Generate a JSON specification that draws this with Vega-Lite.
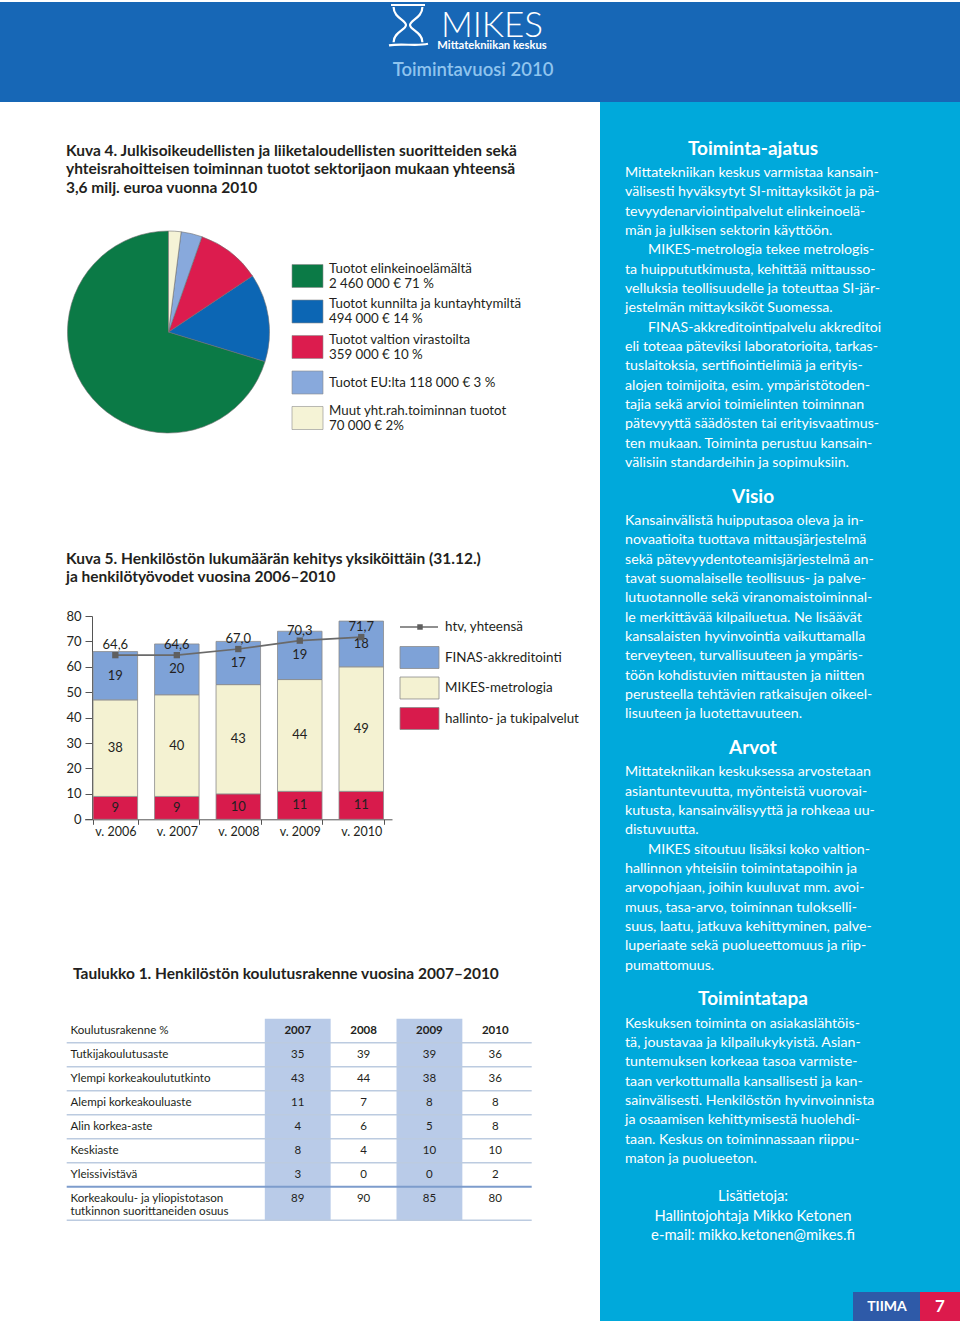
{
  "$schema": "https://vega.github.io/schema/vega-lite/v6.json",
  "padding": 0,
  "spacing": 0,
  "background": "white",
  "config": {
    "view": {"stroke": null},
    "font": "Lato",
    "text": {"font": "Lato", "color": "#231f20"},
    "axis": {"labelFont": "Lato", "titleFont": "Lato"},
    "locale": {"number": {"decimal": ",", "thousands": " ", "grouping": [3], "currency": ["", " €"]}}
  },
  "datasets": {
    "pie": [
      {"sector": "Tuotot elinkeinoelämältä", "amount": 2460000, "l1": "Tuotot elinkeinoelämältä", "l2": "2 460 000 € 71 %"},
      {"sector": "Tuotot kunnilta ja kuntayhtymiltä", "amount": 494000, "l1": "Tuotot kunnilta ja kuntayhtymiltä", "l2": "494 000 € 14 %"},
      {"sector": "Tuotot valtion virastoilta", "amount": 359000, "l1": "Tuotot valtion virastoilta", "l2": "359 000 € 10 %"},
      {"sector": "Tuotot EU:lta", "amount": 118000, "l1": "Tuotot EU:lta 118 000 € 3 %", "l2": null},
      {"sector": "Muut yht.rah.toiminnan tuotot", "amount": 70000, "l1": "Muut yht.rah.toiminnan tuotot", "l2": "70 000 € 2%"}
    ],
    "bars": [
      {"year": "v. 2006", "cat": "hallinto- ja tukipalvelut", "s": 1, "n": 9},
      {"year": "v. 2006", "cat": "MIKES-metrologia", "s": 2, "n": 38},
      {"year": "v. 2006", "cat": "FINAS-akkreditointi", "s": 3, "n": 19},
      {"year": "v. 2007", "cat": "hallinto- ja tukipalvelut", "s": 1, "n": 9},
      {"year": "v. 2007", "cat": "MIKES-metrologia", "s": 2, "n": 40},
      {"year": "v. 2007", "cat": "FINAS-akkreditointi", "s": 3, "n": 20},
      {"year": "v. 2008", "cat": "hallinto- ja tukipalvelut", "s": 1, "n": 10},
      {"year": "v. 2008", "cat": "MIKES-metrologia", "s": 2, "n": 43},
      {"year": "v. 2008", "cat": "FINAS-akkreditointi", "s": 3, "n": 17},
      {"year": "v. 2009", "cat": "hallinto- ja tukipalvelut", "s": 1, "n": 11},
      {"year": "v. 2009", "cat": "MIKES-metrologia", "s": 2, "n": 44},
      {"year": "v. 2009", "cat": "FINAS-akkreditointi", "s": 3, "n": 19},
      {"year": "v. 2010", "cat": "hallinto- ja tukipalvelut", "s": 1, "n": 11},
      {"year": "v. 2010", "cat": "MIKES-metrologia", "s": 2, "n": 49},
      {"year": "v. 2010", "cat": "FINAS-akkreditointi", "s": 3, "n": 18}
    ],
    "htv": [
      {"year": "v. 2006", "htv": 64.6},
      {"year": "v. 2007", "htv": 64.6},
      {"year": "v. 2008", "htv": 67.0},
      {"year": "v. 2009", "htv": 70.3},
      {"year": "v. 2010", "htv": 71.7}
    ],
    "table": [
      {"r": "Tutkijakoulutusaste", "c": "2007", "v": 35},
      {"r": "Tutkijakoulutusaste", "c": "2008", "v": 39},
      {"r": "Tutkijakoulutusaste", "c": "2009", "v": 39},
      {"r": "Tutkijakoulutusaste", "c": "2010", "v": 36},
      {"r": "Ylempi korkeakoulututkinto", "c": "2007", "v": 43},
      {"r": "Ylempi korkeakoulututkinto", "c": "2008", "v": 44},
      {"r": "Ylempi korkeakoulututkinto", "c": "2009", "v": 38},
      {"r": "Ylempi korkeakoulututkinto", "c": "2010", "v": 36},
      {"r": "Alempi korkeakouluaste", "c": "2007", "v": 11},
      {"r": "Alempi korkeakouluaste", "c": "2008", "v": 7},
      {"r": "Alempi korkeakouluaste", "c": "2009", "v": 8},
      {"r": "Alempi korkeakouluaste", "c": "2010", "v": 8},
      {"r": "Alin korkea-aste", "c": "2007", "v": 4},
      {"r": "Alin korkea-aste", "c": "2008", "v": 6},
      {"r": "Alin korkea-aste", "c": "2009", "v": 5},
      {"r": "Alin korkea-aste", "c": "2010", "v": 8},
      {"r": "Keskiaste", "c": "2007", "v": 8},
      {"r": "Keskiaste", "c": "2008", "v": 4},
      {"r": "Keskiaste", "c": "2009", "v": 10},
      {"r": "Keskiaste", "c": "2010", "v": 10},
      {"r": "Yleissivistävä", "c": "2007", "v": 3},
      {"r": "Yleissivistävä", "c": "2008", "v": 0},
      {"r": "Yleissivistävä", "c": "2009", "v": 0},
      {"r": "Yleissivistävä", "c": "2010", "v": 2},
      {"r": "Korkeakoulu- ja yliopistotason tutkinnon suorittaneiden osuus", "c": "2007", "v": 89},
      {"r": "Korkeakoulu- ja yliopistotason tutkinnon suorittaneiden osuus", "c": "2008", "v": 90},
      {"r": "Korkeakoulu- ja yliopistotason tutkinnon suorittaneiden osuus", "c": "2009", "v": 85},
      {"r": "Korkeakoulu- ja yliopistotason tutkinnon suorittaneiden osuus", "c": "2010", "v": 80}
    ],
    "side": [
      {"k": -1, "kind": "h", "t": "Toiminta-ajatus"},
      {"k": 0, "kind": "b", "t": "Mittatekniikan keskus varmistaa kansain-"},
      {"k": 1, "kind": "b", "t": "välisesti hyväksytyt SI-mittayksiköt ja pä-"},
      {"k": 2, "kind": "b", "t": "tevyydenarviointipalvelut elinkeinoelä-"},
      {"k": 3, "kind": "b", "t": "män ja julkisen sektorin käyttöön."},
      {"k": 4, "kind": "i", "t": "MIKES-metrologia tekee metrologis-"},
      {"k": 5, "kind": "b", "t": "ta huippututkimusta, kehittää mittausso-"},
      {"k": 6, "kind": "b", "t": "velluksia teollisuudelle ja toteuttaa SI-jär-"},
      {"k": 7, "kind": "b", "t": "jestelmän mittayksiköt Suomessa."},
      {"k": 8, "kind": "i", "t": "FINAS-akkreditointipalvelu akkreditoi"},
      {"k": 9, "kind": "b", "t": "eli toteaa päteviksi laboratorioita, tarkas-"},
      {"k": 10, "kind": "b", "t": "tuslaitoksia, sertifiointielimiä ja erityis-"},
      {"k": 11, "kind": "b", "t": "alojen toimijoita, esim. ympäristötoden-"},
      {"k": 12, "kind": "b", "t": "tajia sekä arvioi toimielinten toiminnan"},
      {"k": 13, "kind": "b", "t": "pätevyyttä säädösten tai erityisvaatimus-"},
      {"k": 14, "kind": "b", "t": "ten mukaan. Toiminta perustuu kansain-"},
      {"k": 15, "kind": "b", "t": "välisiin standardeihin ja sopimuksiin."},
      {"k": 17, "kind": "h", "t": "Visio"},
      {"k": 18, "kind": "b", "t": "Kansainvälistä huipputasoa oleva ja in-"},
      {"k": 19, "kind": "b", "t": "novaatioita tuottava mittausjärjestelmä"},
      {"k": 20, "kind": "b", "t": "sekä pätevyydentoteamisjärjestelmä an-"},
      {"k": 21, "kind": "b", "t": "tavat suomalaiselle teollisuus- ja palve-"},
      {"k": 22, "kind": "b", "t": "lutuotannolle sekä viranomaistoiminnal-"},
      {"k": 23, "kind": "b", "t": "le merkittävää kilpailuetua. Ne lisäävät"},
      {"k": 24, "kind": "b", "t": "kansalaisten hyvinvointia vaikuttamalla"},
      {"k": 25, "kind": "b", "t": "terveyteen, turvallisuuteen ja ympäris-"},
      {"k": 26, "kind": "b", "t": "töön kohdistuvien mittausten ja niitten"},
      {"k": 27, "kind": "b", "t": "perusteella tehtävien ratkaisujen oikeel-"},
      {"k": 28, "kind": "b", "t": "lisuuteen ja luotettavuuteen."},
      {"k": 30, "kind": "h", "t": "Arvot"},
      {"k": 31, "kind": "b", "t": "Mittatekniikan keskuksessa arvostetaan"},
      {"k": 32, "kind": "b", "t": "asiantuntevuutta, myönteistä vuorovai-"},
      {"k": 33, "kind": "b", "t": "kutusta, kansainvälisyyttä ja rohkeaa uu-"},
      {"k": 34, "kind": "b", "t": "distuvuutta."},
      {"k": 35, "kind": "i", "t": "MIKES sitoutuu lisäksi koko valtion-"},
      {"k": 36, "kind": "b", "t": "hallinnon yhteisiin toimintatapoihin ja"},
      {"k": 37, "kind": "b", "t": "arvopohjaan, joihin kuuluvat mm. avoi-"},
      {"k": 38, "kind": "b", "t": "muus, tasa-arvo, toiminnan tulokselli-"},
      {"k": 39, "kind": "b", "t": "suus, laatu, jatkuva kehittyminen, palve-"},
      {"k": 40, "kind": "b", "t": "luperiaate sekä puolueettomuus ja riip-"},
      {"k": 41, "kind": "b", "t": "pumattomuus."},
      {"k": 43, "kind": "h", "t": "Toimintatapa"},
      {"k": 44, "kind": "b", "t": "Keskuksen toiminta on asiakaslähtöis-"},
      {"k": 45, "kind": "b", "t": "tä, joustavaa ja kilpailukykyistä. Asian-"},
      {"k": 46, "kind": "b", "t": "tuntemuksen korkeaa tasoa varmiste-"},
      {"k": 47, "kind": "b", "t": "taan verkottumalla kansallisesti ja kan-"},
      {"k": 48, "kind": "b", "t": "sainvälisesti. Henkilöstön hyvinvoinnista"},
      {"k": 49, "kind": "b", "t": "ja osaamisen kehittymisestä huolehdi-"},
      {"k": 50, "kind": "b", "t": "taan. Keskus on toiminnassaan riippu-"},
      {"k": 51, "kind": "b", "t": "maton ja puolueeton."},
      {"k": 53, "kind": "c", "t": "Lisätietoja:"},
      {"k": 54, "kind": "c", "t": "Hallintojohtaja Mikko Ketonen"},
      {"k": 55, "kind": "c", "t": "e-mail: mikko.ketonen@mikes.fi"}
    ]
  },
  "vconcat": [
    {
      "width": 960,
      "height": 100,
      "view": {"fill": "#1767b6", "stroke": null},
      "layer": [
        {
          "data": {"values": [{"t": "logo"}]},
          "mark": {"type": "point", "shape": "M-0.85,-1 L0.85,-1 M-0.72,-0.9 C-0.72,-0.35 -0.1,-0.25 -0.1,0 C-0.1,0.25 -0.72,0.35 -0.72,0.86 M0.72,-0.9 C0.72,-0.35 0.1,-0.25 0.1,0 C0.1,0.25 0.72,0.35 0.72,0.86 M-0.95,1.02 C-0.3,0.9 0.4,1.08 1,0.94", "filled": false, "stroke": "white", "strokeWidth": 2.2, "size": 1600, "opacity": 1},
          "encoding": {"x": {"value": 408}, "y": {"value": 23}}
        },
        {
          "data": {"values": [{"t": "MIKES"}]},
          "mark": {"type": "text", "fontSize": 35, "fontWeight": 300, "color": "white", "align": "center", "baseline": "alphabetic"},
          "encoding": {"x": {"value": 492}, "y": {"value": 35}, "text": {"field": "t"}}
        },
        {
          "data": {"values": [{"t": "Mittatekniikan keskus"}]},
          "mark": {"type": "text", "fontSize": 11.2, "fontWeight": "bold", "color": "white", "align": "center", "baseline": "alphabetic"},
          "encoding": {"x": {"value": 492}, "y": {"value": 47}, "text": {"field": "t"}}
        },
        {
          "data": {"values": [{"t": "Toimintavuosi 2010"}]},
          "mark": {"type": "text", "fontSize": 18.5, "fontWeight": 600, "color": "#8fc4ee", "align": "center", "baseline": "alphabetic"},
          "encoding": {"x": {"value": 473}, "y": {"value": 74}, "text": {"field": "t"}}
        }
      ]
    },
    {
      "spacing": 0,
      "hconcat": [
        {
          "width": 600,
          "height": 1221,
          "view": {"fill": "white", "stroke": null},
          "resolve": {
            "scale": {"x": "independent", "y": "independent", "color": "independent", "theta": "independent"},
            "axis": {"x": "independent", "y": "independent"}
          },
          "layer": [
            {
              "data": {"values": [{"t": "Kuva 4. Julkisoikeudellisten ja liiketaloudellisten suoritteiden sekä\nyhteisrahoitteisen toiminnan tuotot sektorijaon mukaan yhteensä\n3,6 milj. euroa vuonna 2010"}]},
              "mark": {"type": "text", "align": "left", "baseline": "alphabetic", "lineBreak": "\n", "lineHeight": 18.5, "fontSize": 15.5, "fontWeight": "bold"},
              "encoding": {"x": {"value": 66}, "y": {"value": 53.5}, "text": {"field": "t"}}
            },
            {
              "data": {"values": [{"t": "Kuva 5. Henkilöstön lukumäärän kehitys yksiköittäin (31.12.)\nja henkilötyövodet vuosina 2006–2010"}]},
              "mark": {"type": "text", "align": "left", "baseline": "alphabetic", "lineBreak": "\n", "lineHeight": 18, "fontSize": 15.5, "fontWeight": "bold"},
              "encoding": {"x": {"value": 66}, "y": {"value": 461.5}, "text": {"field": "t"}}
            },
            {
              "data": {"values": [{"t": "Taulukko 1. Henkilöstön koulutusrakenne vuosina 2007–2010"}]},
              "mark": {"type": "text", "align": "left", "baseline": "alphabetic", "fontSize": 15.5, "fontWeight": "bold"},
              "encoding": {"x": {"value": 73}, "y": {"value": 876.5}, "text": {"field": "t"}}
            },
            {
              "data": {"name": "pie"},
              "layer": [
                {
                  "mark": {"type": "arc", "radius": 101, "stroke": "#6e6e6e", "strokeWidth": 0.6},
                  "encoding": {
                    "theta": {"field": "amount", "type": "quantitative", "stack": true},
                    "order": {"field": "amount", "type": "quantitative", "sort": "ascending"},
                    "color": {"field": "sector", "type": "nominal", "scale": {"domain": ["Tuotot elinkeinoelämältä", "Tuotot kunnilta ja kuntayhtymiltä", "Tuotot valtion virastoilta", "Tuotot EU:lta", "Muut yht.rah.toiminnan tuotot"], "range": ["#0b7a46", "#0c66b4", "#dc1c4e", "#88a9dc", "#f5f3d6"]}, "legend": null},
                    "x": {"value": 168.5},
                    "y": {"value": 230}
                  }
                },
                {
                  "mark": {"type": "rect", "stroke": "#8c8c8c", "strokeWidth": 0.6},
                  "encoding": {
                    "y": {"field": "sector", "type": "nominal", "scale": {"domain": ["Tuotot elinkeinoelämältä", "Tuotot kunnilta ja kuntayhtymiltä", "Tuotot valtion virastoilta", "Tuotot EU:lta", "Muut yht.rah.toiminnan tuotot"], "range": [156.25, 333.75], "paddingInner": 0.352, "paddingOuter": 0.176}, "axis": null},
                    "x": {"value": 292},
                    "x2": {"value": 323},
                    "color": {"field": "sector", "type": "nominal", "legend": null}
                  }
                },
                {
                  "transform": [{"filter": "datum.l2 != null"}],
                  "mark": {"type": "text", "align": "left", "baseline": "middle", "fontSize": 13.3, "dy": -7.5},
                  "encoding": {"y": {"field": "sector", "type": "nominal", "axis": null}, "x": {"value": 329}, "text": {"field": "l1"}}
                },
                {
                  "transform": [{"filter": "datum.l2 != null"}],
                  "mark": {"type": "text", "align": "left", "baseline": "middle", "fontSize": 13.3, "dy": 7.5},
                  "encoding": {"y": {"field": "sector", "type": "nominal", "axis": null}, "x": {"value": 329}, "text": {"field": "l2"}}
                },
                {
                  "transform": [{"filter": "datum.l2 == null"}],
                  "mark": {"type": "text", "align": "left", "baseline": "middle", "fontSize": 13.3},
                  "encoding": {"y": {"field": "sector", "type": "nominal", "axis": null}, "x": {"value": 329}, "text": {"field": "l1"}}
                }
              ]
            },
            {
              "layer": [
                {
                  "data": {"name": "bars"},
                  "mark": {"type": "bar", "stroke": "#8a8a8a", "strokeWidth": 0.8},
                  "encoding": {
                    "x": {"field": "year", "type": "nominal", "sort": null, "title": null,
                      "scale": {"domain": ["v. 2006", "v. 2007", "v. 2008", "v. 2009", "v. 2010"], "range": [84.6, 392], "paddingInner": 0.276, "paddingOuter": 0.138},
                      "axis": {"orient": "bottom", "offset": -503.7, "tickBand": "extent", "tickSize": 5, "tickColor": "#555555", "domainColor": "#555555", "labelPadding": 1, "labelAngle": 0, "labelFontSize": 12.5, "labelColor": "#231f20", "title": null, "grid": false}},
                    "y": {"field": "n", "type": "quantitative", "stack": "zero", "title": null,
                      "scale": {"domain": [0, 80], "range": [717.3, 514], "nice": false},
                      "axis": {"orient": "left", "offset": -92, "values": [0, 10, 20, 30, 40, 50, 60, 70, 80], "tickSize": 7, "tickColor": "#555555", "domainColor": "#555555", "labelPadding": 4, "labelFontSize": 13, "labelColor": "#231f20", "grid": false, "title": null}},
                    "color": {"field": "cat", "type": "nominal", "scale": {"domain": ["hallinto- ja tukipalvelut", "MIKES-metrologia", "FINAS-akkreditointi"], "range": ["#d81b4c", "#f4f2d2", "#7ea2d7"]}, "legend": null},
                    "order": {"field": "s", "type": "quantitative", "sort": "ascending"}
                  }
                },
                {
                  "data": {"name": "bars"},
                  "mark": {"type": "text", "fontSize": 13, "baseline": "middle"},
                  "encoding": {
                    "x": {"field": "year", "type": "nominal", "title": null},
                    "y": {"field": "n", "type": "quantitative", "stack": "zero", "bandPosition": 0.5, "title": null},
                    "detail": {"field": "cat"},
                    "order": {"field": "s", "type": "quantitative", "sort": "ascending"},
                    "text": {"field": "n", "type": "quantitative"}
                  }
                },
                {
                  "data": {"name": "htv"},
                  "mark": {"type": "line", "color": "#6a6a6a", "strokeWidth": 1.6},
                  "encoding": {
                    "x": {"field": "year", "type": "nominal", "title": null},
                    "y": {"field": "htv", "type": "quantitative", "title": null}
                  }
                },
                {
                  "data": {"name": "htv"},
                  "mark": {"type": "point", "shape": "square", "filled": true, "color": "#5f5f5f", "size": 40, "opacity": 1},
                  "encoding": {
                    "x": {"field": "year", "type": "nominal", "title": null},
                    "y": {"field": "htv", "type": "quantitative", "title": null}
                  }
                },
                {
                  "data": {"name": "htv"},
                  "mark": {"type": "text", "fontSize": 13, "dy": -10, "baseline": "middle"},
                  "encoding": {
                    "x": {"field": "year", "type": "nominal", "title": null},
                    "y": {"field": "htv", "type": "quantitative", "title": null},
                    "text": {"field": "htv", "type": "quantitative", "format": ".1f"}
                  }
                }
              ]
            },
            {
              "data": {"values": [{"k": "htv, yhteensä"}, {"k": "FINAS-akkreditointi"}, {"k": "MIKES-metrologia"}, {"k": "hallinto- ja tukipalvelut"}]},
              "layer": [
                {
                  "transform": [{"filter": "datum.k != 'htv, yhteensä'"}],
                  "mark": {"type": "rect", "stroke": "#8a8a8a", "strokeWidth": 0.8},
                  "encoding": {
                    "y": {"field": "k", "type": "nominal", "scale": {"domain": ["htv, yhteensä", "FINAS-akkreditointi", "MIKES-metrologia", "hallinto- ja tukipalvelut"], "range": [509.75, 631.75], "paddingInner": 0.28, "paddingOuter": 0.14}, "axis": null},
                    "x": {"value": 400},
                    "x2": {"value": 439},
                    "color": {"field": "k", "type": "nominal", "scale": {"domain": ["FINAS-akkreditointi", "MIKES-metrologia", "hallinto- ja tukipalvelut"], "range": ["#7ea2d7", "#f4f2d2", "#d81b4c"]}, "legend": null}
                  }
                },
                {
                  "transform": [{"filter": "datum.k == 'htv, yhteensä'"}],
                  "mark": {"type": "rule", "color": "#6a6a6a", "strokeWidth": 1.6},
                  "encoding": {
                    "y": {"field": "k", "type": "nominal", "bandPosition": 0.5, "axis": null},
                    "x": {"value": 400},
                    "x2": {"value": 438}
                  }
                },
                {
                  "transform": [{"filter": "datum.k == 'htv, yhteensä'"}],
                  "mark": {"type": "point", "shape": "square", "filled": true, "color": "#5f5f5f", "size": 30, "opacity": 1},
                  "encoding": {
                    "y": {"field": "k", "type": "nominal", "axis": null},
                    "x": {"value": 420}
                  }
                },
                {
                  "mark": {"type": "text", "align": "left", "baseline": "middle", "fontSize": 13.4},
                  "encoding": {
                    "y": {"field": "k", "type": "nominal", "axis": null},
                    "x": {"value": 445},
                    "text": {"field": "k"}
                  }
                }
              ]
            },
            {
              "data": {"name": "table"},
              "layer": [
                {
                  "transform": [{"filter": "datum.r == 'Tutkijakoulutusaste' && (datum.c == '2007' || datum.c == '2009')"}],
                  "mark": {"type": "rect", "color": "#b9cbe8"},
                  "encoding": {
                    "x": {"field": "c", "type": "nominal", "scale": {"domain": ["2007", "2008", "2009", "2010"], "range": [264.8, 528.2], "paddingInner": 0, "paddingOuter": 0}, "axis": null},
                    "y": {"value": 916.7},
                    "y2": {"value": 1118.3}
                  }
                },
                {
                  "transform": [{"filter": "datum.c == '2007' && datum.r != 'Yleissivistävä' && datum.r != 'Korkeakoulu- ja yliopistotason tutkinnon suorittaneiden osuus'"}],
                  "mark": {"type": "rule", "color": "#bccbe0", "strokeWidth": 1.4},
                  "encoding": {
                    "y": {"field": "r", "type": "nominal", "bandPosition": 1, "title": null},
                    "x": {"value": 66.7},
                    "x2": {"value": 531.7}
                  }
                },
                {
                  "transform": [{"filter": "datum.c == '2007' && datum.r == 'Tutkijakoulutusaste'"}],
                  "mark": {"type": "rule", "color": "#bccbe0", "strokeWidth": 1.4},
                  "encoding": {
                    "y": {"datum": "Koulutusrakenne %", "type": "nominal", "bandPosition": 1},
                    "x": {"value": 66.7},
                    "x2": {"value": 531.7}
                  }
                },
                {
                  "transform": [{"filter": "datum.c == '2007' && datum.r == 'Yleissivistävä'"}],
                  "mark": {"type": "rule", "color": "#7d9ccc", "strokeWidth": 2},
                  "encoding": {
                    "y": {"field": "r", "type": "nominal", "bandPosition": 1, "title": null},
                    "x": {"value": 66.7},
                    "x2": {"value": 531.7}
                  }
                },
                {
                  "transform": [{"filter": "datum.c == '2007' && datum.r == 'Korkeakoulu- ja yliopistotason tutkinnon suorittaneiden osuus'"}],
                  "mark": {"type": "rule", "color": "#bccbe0", "strokeWidth": 1.4, "yOffset": 9.6},
                  "encoding": {
                    "y": {"field": "r", "type": "nominal", "bandPosition": 1, "title": null},
                    "x": {"value": 66.7},
                    "x2": {"value": 531.7}
                  }
                },
                {
                  "mark": {"type": "text", "fontSize": 11.5, "baseline": "middle"},
                  "encoding": {
                    "x": {"field": "c", "type": "nominal", "axis": null},
                    "y": {"field": "r", "type": "nominal", "title": null,
                      "scale": {"domain": ["Koulutusrakenne %", "Tutkijakoulutusaste", "Ylempi korkeakoulututkinto", "Alempi korkeakouluaste", "Alin korkea-aste", "Keskiaste", "Yleissivistävä", "Korkeakoulu- ja yliopistotason tutkinnon suorittaneiden osuus"], "range": [916.7, 1108.7], "paddingInner": 0, "paddingOuter": 0},
                      "axis": {"orient": "left", "offset": -70, "domain": false, "ticks": false, "tickSize": 0, "labelPadding": 0, "labelAlign": "left", "labelFontSize": 11.6, "labelColor": "#231f20", "labelLimit": 0, "labelOverlap": false, "labelLineHeight": 13, "grid": false, "title": null,
                        "labelExpr": "datum.value == 'Korkeakoulu- ja yliopistotason tutkinnon suorittaneiden osuus' ? ['Korkeakoulu- ja yliopistotason', 'tutkinnon suorittaneiden osuus'] : datum.value"}},
                    "text": {"field": "v", "type": "quantitative"}
                  }
                },
                {
                  "transform": [{"filter": "datum.r == 'Tutkijakoulutusaste'"}],
                  "mark": {"type": "text", "fontSize": 11.5, "fontWeight": "bold", "baseline": "middle"},
                  "encoding": {
                    "x": {"field": "c", "type": "nominal", "axis": null},
                    "y": {"datum": "Koulutusrakenne %", "type": "nominal"},
                    "text": {"field": "c"}
                  }
                }
              ]
            }
          ]
        },
        {
          "width": 360,
          "height": 1221,
          "view": {"fill": "#00a9db", "stroke": null},
          "layer": [
            {
              "data": {"name": "side"},
              "transform": [{"filter": "datum.kind == 'b'"}],
              "mark": {"type": "text", "align": "left", "baseline": "middle", "fontSize": 14.2, "color": "white"},
              "encoding": {
                "x": {"value": 25},
                "y": {"field": "k", "type": "quantitative", "scale": {"domain": [0, 55], "range": [71, 1134.15], "nice": false, "zero": false}, "axis": null},
                "text": {"field": "t"}
              }
            },
            {
              "data": {"name": "side"},
              "transform": [{"filter": "datum.kind == 'i'"}],
              "mark": {"type": "text", "align": "left", "baseline": "middle", "fontSize": 14.2, "color": "white"},
              "encoding": {
                "x": {"value": 48},
                "y": {"field": "k", "type": "quantitative", "axis": null},
                "text": {"field": "t"}
              }
            },
            {
              "data": {"name": "side"},
              "transform": [{"filter": "datum.kind == 'h'"}],
              "mark": {"type": "text", "align": "center", "baseline": "middle", "fontSize": 19, "fontWeight": "bold", "color": "white", "dy": -5},
              "encoding": {
                "x": {"value": 153},
                "y": {"field": "k", "type": "quantitative", "axis": null},
                "text": {"field": "t"}
              }
            },
            {
              "data": {"name": "side"},
              "transform": [{"filter": "datum.kind == 'c'"}],
              "mark": {"type": "text", "align": "center", "baseline": "middle", "fontSize": 14.8, "color": "white"},
              "encoding": {
                "x": {"value": 153},
                "y": {"field": "k", "type": "quantitative", "axis": null},
                "text": {"field": "t"}
              }
            },
            {
              "data": {"values": [{"b": "TIIMA"}]},
              "mark": {"type": "rect", "color": "#2e5aa8"},
              "encoding": {"x": {"value": 253}, "x2": {"value": 320}, "y": {"value": 1190}, "y2": {"value": 1221}}
            },
            {
              "data": {"values": [{"b": "7"}]},
              "mark": {"type": "rect", "color": "#dc1a4c"},
              "encoding": {"x": {"value": 320}, "x2": {"value": 360}, "y": {"value": 1190}, "y2": {"value": 1221}}
            },
            {
              "data": {"values": [{"b": "TIIMA"}]},
              "mark": {"type": "text", "align": "center", "baseline": "middle", "fontSize": 14, "fontWeight": "bold", "color": "white"},
              "encoding": {"x": {"value": 287}, "y": {"value": 1205}, "text": {"field": "b"}}
            },
            {
              "data": {"values": [{"b": "7"}]},
              "mark": {"type": "text", "align": "center", "baseline": "middle", "fontSize": 17, "fontWeight": "bold", "color": "white"},
              "encoding": {"x": {"value": 340}, "y": {"value": 1205}, "text": {"field": "b"}}
            }
          ]
        }
      ]
    }
  ]
}
